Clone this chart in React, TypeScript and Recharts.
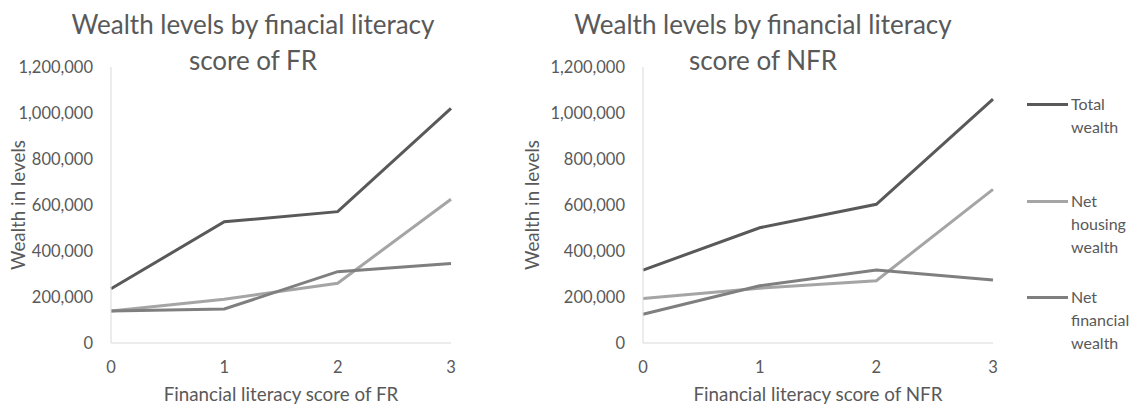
import React from 'react';
import { LineChart, Line, XAxis, YAxis, Legend } from 'recharts';

const categories = ['0', '1', '2', '3'];
const seriesNames = ['Total wealth', 'Net housing wealth', 'Net financial wealth'];
const frTotal = [236000, 527000, 571000, 1020000];
const frHousing = [139000, 190000, 260000, 625000];
const frFinancial = [139000, 148000, 310000, 346000];
const nfrTotal = [317000, 501000, 603000, 1060000];
const nfrHousing = [193000, 238000, 271000, 668000];
const nfrFinancial = [125000, 249000, 317000, 274000];
const yTicks = [0, 200000, 400000, 600000, 800000, 1000000, 1200000];

const leftTitle = ['Wealth levels by finacial literacy', 'score of FR'];
const rightTitle = ['Wealth levels by financial literacy', 'score of NFR'];
const leftXLabel = 'Financial literacy score of FR';
const rightXLabel = 'Financial literacy score of NFR';
const yLabel = 'Wealth in levels';

const COLORS = ['#595959', '#a5a5a5', '#7f7f7f'];
const FONT = 'Lato, "Open Sans", sans-serif';
const TEXT = '#595959';
const AXIS = '#d9d9d9';

const build = (t: number[], h: number[], f: number[]) =>
  categories.map((c, i) => ({ cat: c, total: t[i], housing: h[i], financial: f[i] }));

const frData = build(frTotal, frHousing, frFinancial);
const nfrData = build(nfrTotal, nfrHousing, nfrFinancial);

const fmt = (v: number) => v.toLocaleString('en-US');
const tickStyle = { fill: TEXT, fontSize: 16.5, fontFamily: FONT };

function Title({ lines, center }: { lines: string[]; center: number }) {
  return (
    <>
      {lines.map((l, i) => (
        <div
          key={i}
          style={{
            position: 'absolute',
            left: center - 250,
            width: 500,
            top: i === 0 ? 8 : 44,
            textAlign: 'center',
            fontFamily: FONT,
            fontSize: 26,
            lineHeight: '32px',
            color: TEXT,
            whiteSpace: 'nowrap',
          }}
        >
          {l}
        </div>
      ))}
    </>
  );
}

const LegendContent = () => (
  <div style={{ fontFamily: FONT, fontSize: 16, color: TEXT }}>
    {seriesNames.map((name, i) => (
      <div key={i} style={{ display: 'flex', alignItems: 'flex-start', height: i === 0 ? 97 : 96 }}>
        <div style={{ width: 41, height: 3, background: COLORS[i], marginTop: 11, marginRight: 3, flexShrink: 0 }} />
        <div style={{ width: 68, lineHeight: '23px' }}>{name}</div>
      </div>
    ))}
  </div>
);

function Panel({ data, xLabel, width, yAxisWidth, rightMargin, yLabelOffset, legend }: any) {
  return (
    <LineChart width={width} height={410} data={data} margin={{ top: 67, right: rightMargin, bottom: 0, left: 0 }}>
      <XAxis
        dataKey="cat"
        height={67}
        stroke={AXIS}
        tickLine={false}
        tickSize={0}
        tickMargin={18}
        tick={tickStyle}
        label={{ value: xLabel, position: 'insideBottom', offset: 9, fill: TEXT, fontSize: 18.8, fontFamily: FONT }}
      />
      <YAxis
        width={yAxisWidth}
        domain={[0, 1200000]}
        ticks={yTicks}
        tickFormatter={fmt}
        stroke={AXIS}
        tickLine={false}
        tickSize={0}
        tickMargin={18}
        tick={tickStyle}
        label={{
          value: yLabel,
          angle: -90,
          position: 'insideLeft',
          offset: yLabelOffset,
          fill: TEXT,
          fontSize: 18.8,
          fontFamily: FONT,
          style: { textAnchor: 'middle' },
        }}
      />
      {legend && (
        <Legend
          layout="vertical"
          align="center"
          verticalAlign="middle"
          content={<LegendContent />}
          wrapperStyle={{ left: 517, top: 92, width: 113, height: 300 }}
        />
      )}
      <Line type="linear" dataKey="total" name={seriesNames[0]} stroke={COLORS[0]} strokeWidth={3} dot={false} isAnimationActive={false} />
      <Line type="linear" dataKey="housing" name={seriesNames[1]} stroke={COLORS[1]} strokeWidth={3} dot={false} isAnimationActive={false} />
      <Line type="linear" dataKey="financial" name={seriesNames[2]} stroke={COLORS[2]} strokeWidth={3} dot={false} isAnimationActive={false} />
    </LineChart>
  );
}

export default function App() {
  return (
    <div style={{ position: 'absolute', left: 0, top: 0, width: 1140, height: 410, background: '#fff', overflow: 'hidden' }}>
      <div style={{ position: 'absolute', left: 0, top: 0 }}>
        <Panel data={frData} xLabel={leftXLabel} width={470} yAxisWidth={111} rightMargin={19} yLabelOffset={18} legend={false} />
      </div>
      <div style={{ position: 'absolute', left: 510, top: 0 }}>
        <Panel data={nfrData} xLabel={rightXLabel} width={630} yAxisWidth={133} rightMargin={147} yLabelOffset={22} legend={true} />
      </div>
      <Title lines={leftTitle} center={253} />
      <Title lines={rightTitle} center={763} />
    </div>
  );
}
